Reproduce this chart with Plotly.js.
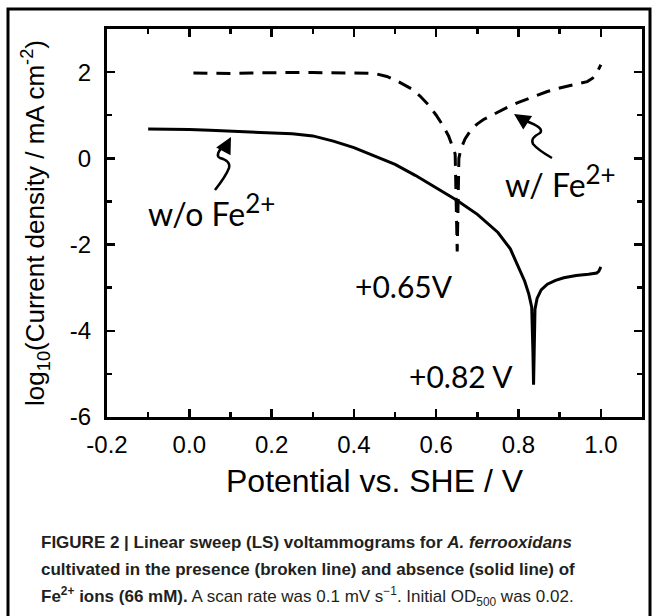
<!DOCTYPE html>
<html>
<head>
<meta charset="utf-8">
<script src="https://cdn.plot.ly/plotly-3.0.1.min.js"></script>
<style>html,body{margin:0;padding:0;background:#fff;}#chart{width:657px;height:616px;}</style>
</head>
<body>
<div id="chart"></div>
<script>
// ---- data ----
const potentialWithout = [-0.1, -0.05, 0.0, 0.05, 0.1, 0.15, 0.2, 0.25, 0.3, 0.35, 0.4, 0.45, 0.5, 0.55, 0.6, 0.65, 0.7, 0.75, 0.78, 0.8, 0.815, 0.825, 0.832, 0.835, 0.8365, 0.838, 0.84, 0.845, 0.855, 0.87, 0.89, 0.91, 0.94, 0.97, 0.99, 0.995, 1.0];
const logCurrentWithout = [0.68, 0.68, 0.67, 0.65, 0.63, 0.62, 0.60, 0.57, 0.52, 0.40, 0.25, 0.06, -0.14, -0.40, -0.68, -0.97, -1.30, -1.72, -2.10, -2.52, -2.85, -3.15, -3.45, -4.5, -5.25, -4.5, -3.5, -3.25, -3.05, -2.92, -2.83, -2.77, -2.72, -2.69, -2.66, -2.62, -2.52];

const potentialWith = [0.01, 0.05, 0.1, 0.15, 0.2, 0.25, 0.3, 0.35, 0.4, 0.45, 0.48, 0.5, 0.52, 0.54, 0.56, 0.58, 0.6, 0.615, 0.63, 0.64, 0.646, 0.651, 0.655, 0.66, 0.67, 0.685, 0.7, 0.715, 0.735, 0.756, 0.78, 0.8, 0.837, 0.87, 0.9, 0.92, 0.95, 0.967, 0.98, 0.99, 1.0];
const logCurrentWith = [1.98, 1.97, 1.97, 1.98, 1.99, 1.99, 1.99, 1.99, 1.98, 1.97, 1.9, 1.82, 1.72, 1.61, 1.45, 1.25, 1.0, 0.78, 0.52, 0.28, 0.1, -2.16, 0.0, 0.22, 0.45, 0.67, 0.8, 0.9, 1.0, 1.11, 1.22, 1.3, 1.44, 1.55, 1.63, 1.67, 1.73, 1.78, 1.86, 1.98, 2.17];

const xTickVals = [-0.2, 0.0, 0.2, 0.4, 0.6, 0.8, 1.0];
const xTickText = ["-0.2", "0.0", "0.2", "0.4", "0.6", "0.8", "1.0"];
const xMinorVals = [-0.1, 0.1, 0.3, 0.5, 0.7, 0.9];
const yTickVals = [-6, -4, -2, 0, 2];
const yTickText = ["-6", "-4", "-2", "0", "2"];
const yMinorVals = [-5, -3, -1, 1, 3];

const xRange = [-0.2, 1.1];
const yRange = [-6, 3];

// ---- layout geometry ----
const W = 657, H = 616, L = 107, R = 15, T = 29, B = 199;
const PW = W - L - R, PH = H - T - B;
const px2x = px => xRange[0] + (px - L) / PW * (xRange[1] - xRange[0]);
const py2y = py => yRange[1] - (py - T) / PH * (yRange[1] - yRange[0]);
const px2p = px => (px - L) / PW;
const py2p = py => (H - B - py) / PH;
function pathFrom(cmds) {
  return cmds.map(c => c[0] + ' ' + c.slice(1).reduce((a, v, i) => {
    if (i % 2 === 0) a.push(px2x(v).toFixed(5)); else a[a.length - 1] += ',' + py2y(v).toFixed(5);
    return a;
  }, []).join(' ')).join(' ');
}

const traces = [
  {x: potentialWithout, y: logCurrentWithout, mode: 'lines', line: {color: '#000', width: 3}, hoverinfo: 'skip', showlegend: false},
  {x: potentialWith, y: logCurrentWith, mode: 'lines', line: {color: '#000', width: 3, dash: '14px,9px'}, hoverinfo: 'skip', showlegend: false}
];

const annFont = {family: 'Lato, "Open Sans", sans-serif', size: 30, color: '#000'};
const labFont = {family: 'Lato, "Open Sans", sans-serif', size: 32, color: '#000'};
const capFont = {family: '"Liberation Sans Narrow", "Liberation Sans", Arial, sans-serif', size: 17, color: '#231f20'};
const supBig = s => '<sup><span style="font-size:26px">' + s + '</span></sup>';

const annotations = [
  {x: px2x(211), y: py2y(210), text: 'w/o Fe' + supBig('2+'), showarrow: false, font: labFont},
  {x: px2x(560), y: py2y(181), text: 'w/ Fe' + supBig('2+'), showarrow: false, font: labFont},
  {x: px2x(404), y: py2y(286), text: '+0.65V', showarrow: false, font: annFont},
  {x: px2x(461), y: py2y(376), text: '+0.82 V', showarrow: false, font: annFont},
  // arrowheads
  {x: px2x(231), y: py2y(137), ax: -8, ay: 15, text: '', showarrow: true, arrowhead: 2, arrowsize: 1.3, arrowwidth: 2.5, arrowcolor: '#000', standoff: 0},
  {x: px2x(514), y: py2y(114), ax: 14, ay: 9, text: '', showarrow: true, arrowhead: 2, arrowsize: 1.3, arrowwidth: 2.5, arrowcolor: '#000', standoff: 0},
  // caption
  {xref: 'paper', yref: 'paper', x: px2p(39), y: py2p(542), xanchor: 'left', yanchor: 'middle', showarrow: false, align: 'left', font: capFont,
   text: '<b>FIGURE 2 | Linear sweep (LS) voltammograms for <i>A. ferrooxidans</i></b>'},
  {xref: 'paper', yref: 'paper', x: px2p(39), y: py2p(569), xanchor: 'left', yanchor: 'middle', showarrow: false, align: 'left', font: capFont,
   text: '<b>cultivated in the presence (broken line) and absence (solid line) of</b>'},
  {xref: 'paper', yref: 'paper', x: px2p(39), y: py2p(596), xanchor: 'left', yanchor: 'middle', showarrow: false, align: 'left', font: capFont,
   text: '<b>Fe<sup>2+</sup> ions (66 mM).</b> A scan rate was 0.1 mV s<sup>\u22121</sup>. Initial OD<sub>500</sub> was 0.02.'}
];

const shapes = [
  {type: 'path', xref: 'x', yref: 'y', line: {color: '#000', width: 2.5},
   path: pathFrom([['M', 215, 190], ['Q', 226, 176, 229, 168], ['Q', 231, 161, 220, 158], ['Q', 214, 155, 225, 144]])},
  {type: 'path', xref: 'x', yref: 'y', line: {color: '#000', width: 2.5},
   path: pathFrom([['M', 552, 158], ['Q', 538, 150, 533, 144], ['Q', 530, 138, 540, 133], ['Q', 545, 128, 526, 121]])},
  {type: 'rect', xref: 'paper', yref: 'paper', x0: px2p(8), x1: px2p(650), y0: py2p(9), y1: py2p(640), line: {color: '#000', width: 3}, layer: 'below'}
];

const axisFont = {family: '"Liberation Sans", Arial, sans-serif', size: 24, color: '#000'};

const layout = {
  width: W, height: H,
  margin: {l: L, r: R, t: T, b: B, pad: 0},
  paper_bgcolor: '#fff', plot_bgcolor: '#fff',
  showlegend: false,
  xaxis: {
    range: xRange, tickmode: 'array', tickvals: xTickVals, ticktext: xTickText,
    ticks: 'inside', ticklen: 8, tickwidth: 2.5, tickcolor: '#000',
    minor: {tickmode: 'array', tickvals: xMinorVals, ticks: 'inside', ticklen: 5, tickwidth: 2.5, tickcolor: '#000'},
    showline: true, linewidth: 3, linecolor: '#000', mirror: 'allticks',
    showgrid: false, zeroline: false, tickfont: axisFont, ticklabelstandoff: 4,
    title: {text: 'Potential vs. SHE / V', font: {family: '"Liberation Sans", Arial, sans-serif', size: 32, color: '#000'}, standoff: 13},
    automargin: false, fixedrange: true
  },
  yaxis: {
    range: yRange, tickmode: 'array', tickvals: yTickVals, ticktext: yTickText,
    ticks: 'inside', ticklen: 8, tickwidth: 2.5, tickcolor: '#000',
    minor: {tickmode: 'array', tickvals: yMinorVals, ticks: 'inside', ticklen: 5, tickwidth: 2.5, tickcolor: '#000'},
    showline: true, linewidth: 3, linecolor: '#000', mirror: 'allticks',
    showgrid: false, zeroline: false, tickfont: axisFont, ticklabelstandoff: 8,
    title: {text: 'log<sub>10</sub>(Current density / mA cm<sup>-2</sup>)', font: {family: '"Liberation Sans", Arial, sans-serif', size: 26, color: '#000'}, standoff: 18},
    automargin: false, fixedrange: true
  },
  annotations: annotations,
  shapes: shapes
};

Plotly.newPlot('chart', traces, layout, {staticPlot: true, displayModeBar: false});
</script>
</body>
</html>
